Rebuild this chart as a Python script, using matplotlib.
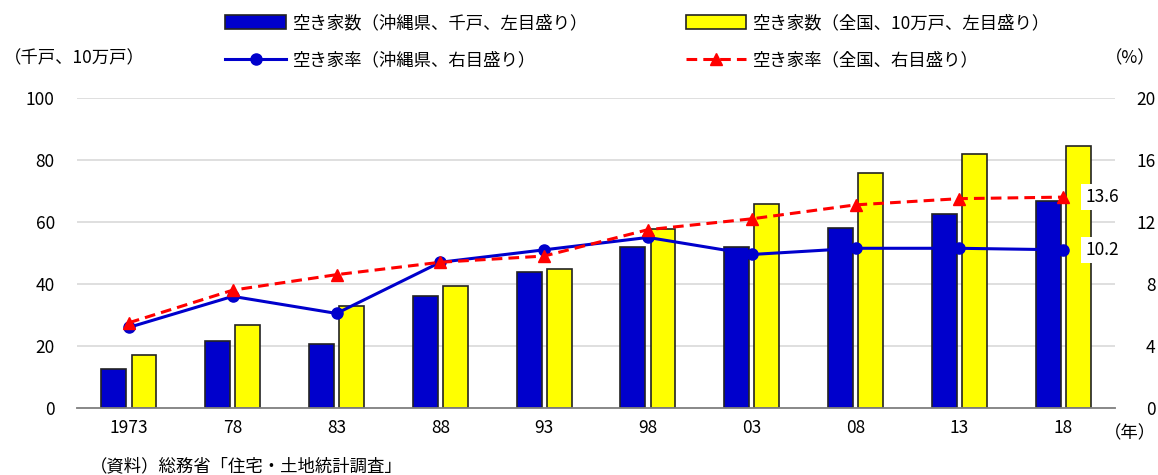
import numpy as np
import matplotlib
matplotlib.use("Agg")
import matplotlib.pyplot as plt

plt.rcParams['font.family'] = ['Noto Sans CJK JP', 'DejaVu Sans']

years = ["1973", "78", "83", "88", "93", "98", "03", "08", "13", "18"]
okinawa_count = [12.5, 21.6, 20.6, 36.1, 43.9, 51.9, 52.0, 58.0, 62.4, 66.8]   # 千戸
national_count = [17.2, 26.8, 33.0, 39.4, 44.8, 57.6, 65.9, 75.7, 82.0, 84.6]  # 10万戸
okinawa_rate = [5.2, 7.2, 6.1, 9.4, 10.2, 11.0, 9.9, 10.3, 10.3, 10.2]
national_rate = [5.5, 7.6, 8.6, 9.4, 9.8, 11.5, 12.2, 13.1, 13.5, 13.6]

BLUE = "#0000CC"
YELLOW = "#FFFF00"
RED = "#FF0000"

fig = plt.figure(figsize=(11.58, 4.75), dpi=100)
ax = fig.add_axes([0.0665, 0.141, 0.8965, 0.653])
ax2 = ax.twinx()

x = np.arange(len(years))
w = 0.24
off = 0.145
b1 = ax.bar(x - off, okinawa_count, w, color=BLUE, edgecolor="#222222", linewidth=1.2, zorder=3)
b2 = ax.bar(x + off, national_count, w, color=YELLOW, edgecolor="#222222", linewidth=1.2, zorder=3)

l1, = ax2.plot(x, okinawa_rate, color=BLUE, lw=2.2, marker="o", ms=8, zorder=5)
l2, = ax2.plot(x, national_rate, color=RED, lw=2.2, ls=(0, (3.5, 2)), marker="^", ms=8, zorder=6)

ax.set_xlim(-0.5, len(years) - 0.5)
ax.set_ylim(0, 100)
ax2.set_ylim(0, 20)
ax.set_yticks(range(0, 101, 20))
ax2.set_yticks(range(0, 21, 4))
ax.set_xticks(x)
ax.set_xticklabels(years)

ax.grid(axis="y", color="#D9D9D9", lw=1.2, zorder=0)
ax.set_axisbelow(True)
ax2.set_zorder(ax.get_zorder() + 1)
ax2.patch.set_visible(False)
for a in (ax, ax2):
    for s in ("top", "left", "right"):
        a.spines[s].set_visible(False)
    a.spines["bottom"].set_color("#888888")
    a.spines["bottom"].set_linewidth(1.2)
    a.tick_params(length=0, labelsize=12.5)
ax.tick_params(axis="y", pad=16)
ax2.tick_params(axis="y", pad=29)
for t in ax2.get_yticklabels():
    t.set_ha("right")
ax.tick_params(axis="x", pad=8)

# end labels
for v in (national_rate[-1], okinawa_rate[-1]):
    ax2.annotate(f"{v:.1f}", (x[-1], v), xytext=(16, 0),
                 textcoords="offset points", va="center", ha="left", fontsize=12.5,
                 bbox=dict(fc="white", ec="none", pad=3), zorder=10)

fig.text(0.003, 0.878, "（千戸、10万戸）", fontsize=12.5, va="center")
fig.text(0.998, 0.878, "（%）", fontsize=12.5, va="center", ha="right")
fig.text(0.998, 0.088, "（年）", fontsize=12.5, va="center", ha="right")
fig.text(0.078, 0.018, "（資料）総務省「住宅・土地統計調査」", fontsize=12.5, va="center")

labels = ["空き家数（沖縄県、千戸、左目盛り）", "空き家率（沖縄県、右目盛り）",
          "空き家数（全国、10万戸、左目盛り）", "空き家率（全国、右目盛り）"]
fig.legend([b1, l1, b2, l2], labels, ncol=2, loc="upper left",
           bbox_to_anchor=(0.181, 1.003), frameon=False, fontsize=12.5,
           handlelength=3.5, handleheight=0.9, columnspacing=5.6,
           labelspacing=1.12, handletextpad=0.4)

fig.savefig("out.png", dpi=100)
